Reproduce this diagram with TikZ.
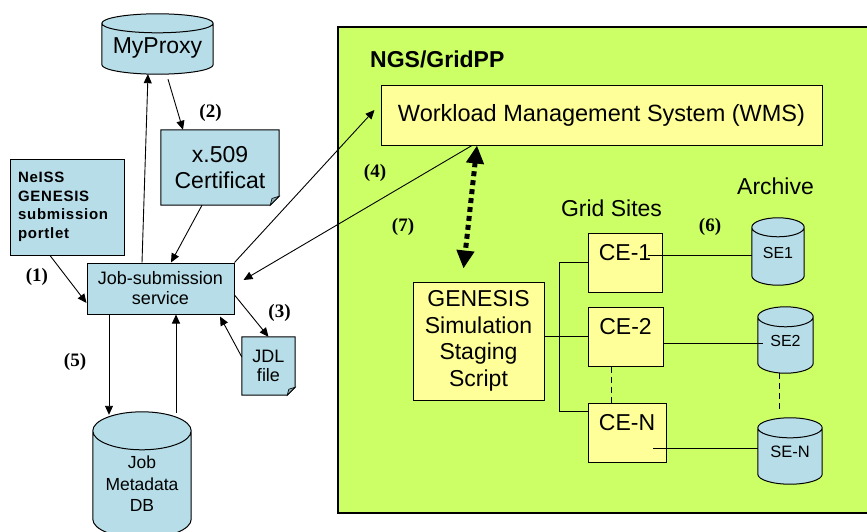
\documentclass[tikz,border=0pt]{standalone}
\usepackage{fontspec}
\setmainfont{Liberation Sans}
\newfontfamily\labfont{Liberation Serif}
\usetikzlibrary{arrows.meta,calc}
\pgfdeclarelayer{back}
\pgfdeclarelayer{bg}
\pgfsetlayers{back,bg,main}
\definecolor{cylblue}{RGB}{183,222,232}
\definecolor{foldclr}{RGB}{140,170,178}
\definecolor{ngsgreen}{RGB}{204,255,102}
\definecolor{boxyellow}{RGB}{255,255,153}
\newcommand{\fA}{\fontsize{23}{26}\selectfont}
\newcommand{\cylbody}[2]{%
  \begin{pgfonlayer}{bg}
  \draw[line width=1pt, fill=cylblue] let \p1=(#1.north west), \p2=(#1.south east), \n1={(\x2-\x1)/2} in
    (\x1,{\y1-#2pt}) -- (\x1,{\y2+#2pt})
    arc[start angle=180,end angle=360,x radius=\n1,y radius=#2pt]
    -- (\x2,{\y1-#2pt})
    arc[start angle=0,end angle=180,x radius=\n1,y radius=#2pt] -- cycle
    (\x1,{\y1-#2pt}) arc[start angle=180,end angle=360,x radius=\n1,y radius=#2pt];
  \end{pgfonlayer}}
\newcommand{\notebody}[2]{%
  \begin{pgfonlayer}{bg}
  \draw[line width=1pt, fill=cylblue] let \p1=(#1.north west), \p2=(#1.south east) in
    (\x1,\y1) -- (\x2,\y1) -- (\x2,{\y2+#2pt}) -- ({\x2-#2pt},\y2) -- (\x1,\y2) -- cycle;
  \draw[line width=0.6pt, fill=foldclr] let \p2=(#1.south east) in
    (\x2,{\y2+#2pt}) -- ({\x2-#2pt},\y2) -- ({\x2-0.8*#2pt},{\y2+0.75*#2pt}) -- cycle;
  \end{pgfonlayer}}
\tikzset{
  box/.style={draw=black, line width=1pt, inner sep=0pt, align=center},
  bluebox/.style={box, fill=cylblue},
  yelbox/.style={box, fill=boxyellow},
  plain/.style={inner sep=0pt, align=center},
  arr/.style={-{Triangle[length=9pt,width=8pt]}, line width=0.9pt},
  dotarr/.style={{Triangle[length=18pt,width=17pt]}-{Triangle[length=18pt,width=17pt]}, line width=5pt, dash pattern=on 5pt off 4pt},
  link/.style={line width=0.9pt},
  dashlink/.style={line width=0.9pt, dash pattern=on 6pt off 4pt},
  lab/.style={font=\labfont\bfseries\fontsize{19}{19}\selectfont, inner sep=0pt},
}
\begin{document}
\begin{tikzpicture}[x=1pt,y=-1pt]
\useasboundingbox (0,0) rectangle (867,532);
\begin{pgfonlayer}{back}
\node[draw=black, line width=1.2pt, fill=ngsgreen, minimum width=542pt, minimum height=486pt, inner sep=0pt] (ngs) at (609,270) {};
\end{pgfonlayer}
\node[anchor=west, inner sep=0pt, font=\bfseries\fontsize{23}{26}\selectfont] (ngstitle) at (370,59) {NGS/GridPP};

% left side
\node[plain, minimum width=111pt, minimum height=60pt, label={[font=\fA, yshift=-4pt]center:MyProxy}] (myproxy) at (157.5,44) {};
\cylbody{myproxy}{9.5}
\node[plain, minimum width=118pt, minimum height=75pt, font=\fA] (cert) at (220,167.5) {x.509\\Certificat};
\notebody{cert}{9}
\node[bluebox, text width=98pt, inner xsep=8pt, minimum height=96pt, align=left, font={\bfseries\fontsize{15}{18.5}\selectfont\addfontfeatures{LetterSpace=5}}] (neiss) at (67,207) {NeISS\\GENESIS\\submission\\portlet};
\node[bluebox, minimum width=147pt, minimum height=51pt, font=\fontsize{18}{20}\selectfont] (jss) at (160.5,288.5) {Job-submission\\service};
\node[plain, minimum width=53pt, minimum height=58pt, font=\fontsize{18}{19}\selectfont] (jdl) at (268.5,366) {JDL\\file};
\notebody{jdl}{8}
\node[plain, minimum width=98pt, minimum height=126pt, label={[font=\fontsize{17.5}{21.5}\selectfont, align=center, yshift=-9pt]center:Job\\Metadata\\DB}] (db) at (142,475) {};
\cylbody{db}{19}

% right side
\node[yelbox, minimum width=441pt, minimum height=59pt, font=\fontsize{23.5}{26}\selectfont] (wms) at (601.5,115.5) {Workload Management System (WMS)};
\node[yelbox, minimum width=131pt, minimum height=118pt, font=\fontsize{23}{26.5}\selectfont] (genesis) at (478.5,341) {GENESIS\\Simulation\\Staging\\Script};
\node[yelbox, minimum width=74pt, minimum height=59pt, label={[font=\fA, yshift=9.5pt]center:CE-1}] (ce1) at (625,262.5) {};
\node[yelbox, minimum width=75pt, minimum height=59pt, label={[font=\fA, yshift=10pt]center:CE-2}] (ce2) at (625.5,336.5) {};
\node[yelbox, minimum width=78pt, minimum height=59pt, label={[font=\fA, yshift=9.5pt]center:CE-N}] (ceN) at (627,432.5) {};
\node[plain, minimum width=52pt, minimum height=67pt, label={[font=\fontsize{16}{18}\selectfont, yshift=-1.5pt]center:SE1}] (se1) at (778,251.5) {};
\cylbody{se1}{9.5}
\node[plain, minimum width=55pt, minimum height=66pt, label={[font=\fontsize{16}{18}\selectfont, yshift=-1pt]center:SE2}] (se2) at (785.5,340) {};
\cylbody{se2}{10}
\node[plain, minimum width=64pt, minimum height=66pt, label={[font=\fontsize{16.5}{18}\selectfont, yshift=-1pt]center:SE-N}] (seN) at (790,451) {};
\cylbody{seN}{10}
\node[plain, font=\fA] (archive) at (775.5,186) {Archive};
\node[plain, font=\fA] (gridsites) at (611.5,208) {Grid Sites};

% step labels
\node[lab] (l1) at (37,277) {(1)};
\node[lab] (l2) at (210.5,113) {(2)};
\node[lab] (l3) at (279.5,313) {(3)};
\node[lab] (l4) at (375,173) {(4)};
\node[lab] (l5) at (75,362) {(5)};
\node[lab] (l6) at (710,227) {(6)};
\node[lab] (l7) at (403,227) {(7)};

% connectors, left
\draw[arr] ([xshift=-18.5pt]jss.north) -- ([xshift=-9.5pt]myproxy.south);
\draw[arr] ([xshift=10.5pt,yshift=-5pt]myproxy.south) -- ([xshift=-37pt]cert.north);
\draw[arr] ([xshift=-18pt]cert.south) -- ([xshift=10.5pt]jss.north);
\draw[arr] ([xshift=-17pt]neiss.south) -- ([yshift=-14.5pt]jss.west);
\draw[arr] ([yshift=-6.5pt]jss.east) -- (jdl.north);
\draw[arr] ([yshift=9pt]jdl.west) -- ([xshift=59.5pt,yshift=-2pt]jss.south);
\draw[arr] ([xshift=-51.5pt]jss.south) -- ([xshift=-33pt,yshift=-3pt]db.north);
\draw[arr] ([xshift=34pt,yshift=-1pt]db.north) -- ([xshift=15.5pt]jss.south);
\draw[arr] (jss.north east) -- ([xshift=-6pt,yshift=5.5pt]wms.west);
\draw[arr] ([xshift=-129.5pt]wms.south) -- ([xshift=9pt,yshift=8.5pt]jss.east);
\draw[dotarr] ([xshift=-124.5pt]wms.south) -- ([xshift=-15pt,yshift=13pt]genesis.north);

% connectors, grid sites
\draw[link] ([yshift=4.5pt]genesis.east) -- (ce2.west);
\draw[link] (ce1.west) -- ++(-28,0) |- ([yshift=21.5pt]ceN.west);
\draw[dashlink] ([xshift=-14.5pt]ce2.south) -- ([xshift=-16pt]ceN.north);
\draw[link] ([xshift=23pt,yshift=7.5pt]ce1.center) -- ([yshift=-3.5pt]se1.west);
\draw[link] ([yshift=-6.5pt]ce2.east) -- ([xshift=5pt,yshift=-3pt]se2.west);
\draw[link] ([xshift=26pt,yshift=-15.5pt]ceN.center) -- ([yshift=3pt]seN.west);
\draw[dashlink] ([xshift=-6.5pt]se2.south) -- ([xshift=-11pt,yshift=6pt]seN.north);
\end{tikzpicture}
\end{document}
